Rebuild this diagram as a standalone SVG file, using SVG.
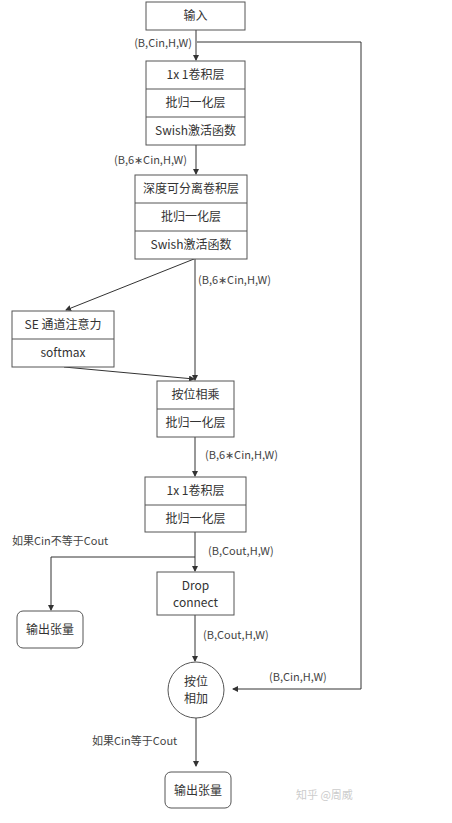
<svg xmlns="http://www.w3.org/2000/svg" width="452" height="823" viewBox="0 0 452 823">
<defs>
<marker id="ah" markerWidth="6" markerHeight="6" refX="5" refY="3" orient="auto" markerUnits="userSpaceOnUse">
<path d="M0,0 L6,3 L0,6 Z" fill="#333"/>
</marker>
<style>
.bx{fill:#fff;stroke:#555;stroke-width:1}
.t{font-family:"Noto Sans CJK SC","Noto Sans",sans-serif;font-size:12px;fill:#333;text-anchor:middle}
.l{font-family:"Noto Sans CJK SC","Noto Sans",sans-serif;font-size:11px;fill:#444}
.c{fill:none;stroke:#333;stroke-width:1}
</style>
</defs>
<rect width="452" height="823" fill="#fff"/>
<g id="connectors">
<path class="c" d="M196,30 V60" marker-end="url(#ah)"/>
<path class="c" d="M197,42 H361 V689 H233" marker-end="url(#ah)"/>
<path class="c" d="M196,145 V174" marker-end="url(#ah)"/>
<path class="c" d="M194,259 L66,310" marker-end="url(#ah)"/>
<path class="c" d="M195,259 V380" marker-end="url(#ah)"/>
<path class="c" d="M64,367 L194,379" marker-end="url(#ah)"/>
<path class="c" d="M195,437 V476" marker-end="url(#ah)"/>
<path class="c" d="M195,532 V571" marker-end="url(#ah)"/>
<path class="c" d="M195,557 H51 V610" marker-end="url(#ah)"/>
<path class="c" d="M195,615 V661" marker-end="url(#ah)"/>
<path class="c" d="M196,718 V766" marker-end="url(#ah)"/>
<text class="l" x="192" y="47" text-anchor="end">(B,Cin,H,W)</text>
<text class="l" x="114" y="164">(B,6∗Cin,H,W)</text>
<text class="l" x="198" y="284">(B,6∗Cin,H,W)</text>
<text class="l" x="205" y="459">(B,6∗Cin,H,W)</text>
<text class="l" x="208" y="555">(B,Cout,H,W)</text>
<text class="l" x="12" y="545">如果Cin不等于Cout</text>
<text class="l" x="203" y="639">(B,Cout,H,W)</text>
<text class="l" x="269" y="681">(B,Cin,H,W)</text>
<text class="l" x="92" y="745">如果Cin等于Cout</text>
</g>
<g id="input">
<rect class="bx" x="146" y="2" width="99" height="28"/>
<text class="t" x="195.5" y="20">输入</text>
</g>
<g id="conv1">
<rect class="bx" x="146" y="61" width="99" height="84"/>
<line class="bx" x1="146" y1="89" x2="245" y2="89"/>
<line class="bx" x1="146" y1="117" x2="245" y2="117"/>
<text class="t" x="195.5" y="79">1x 1卷积层</text>
<text class="t" x="195.5" y="107">批归一化层</text>
<text class="t" x="195.5" y="135">Swish激活函数</text>
</g>
<g id="dwconv">
<rect class="bx" x="135" y="175" width="112" height="84"/>
<line class="bx" x1="135" y1="203" x2="247" y2="203"/>
<line class="bx" x1="135" y1="231" x2="247" y2="231"/>
<text class="t" x="191" y="193">深度可分离卷积层</text>
<text class="t" x="191" y="221">批归一化层</text>
<text class="t" x="191" y="249">Swish激活函数</text>
</g>
<g id="se">
<rect class="bx" x="12" y="311" width="102" height="56"/>
<line class="bx" x1="12" y1="339" x2="114" y2="339"/>
<text class="t" x="63" y="329">SE 通道注意力</text>
<text class="t" x="63" y="357">softmax</text>
</g>
<g id="mul">
<rect class="bx" x="157" y="381" width="77" height="56"/>
<line class="bx" x1="157" y1="409" x2="234" y2="409"/>
<text class="t" x="195.5" y="399">按位相乘</text>
<text class="t" x="195.5" y="427">批归一化层</text>
</g>
<g id="conv2">
<rect class="bx" x="145" y="477" width="101" height="55"/>
<line class="bx" x1="145" y1="505" x2="246" y2="505"/>
<text class="t" x="195.5" y="495">1x 1卷积层</text>
<text class="t" x="195.5" y="523">批归一化层</text>
</g>
<g id="out1">
<rect class="bx" x="17" y="611" width="66" height="37" rx="6"/>
<text class="t" x="50" y="634">输出张量</text>
</g>
<g id="drop">
<rect class="bx" x="157" y="572" width="77" height="43"/>
<text class="t" x="195.5" y="590">Drop</text>
<text class="t" x="195.5" y="607">connect</text>
</g>
<g id="add">
<circle class="bx" cx="196" cy="690" r="28"/>
<text class="t" x="196" y="686">按位</text>
<text class="t" x="196" y="703">相加</text>
</g>
<g id="out2">
<rect class="bx" x="165" y="772" width="66" height="36" rx="6"/>
<text class="t" x="198" y="795">输出张量</text>
</g>
<text x="296" y="799" style="font-family:'Noto Sans CJK SC',sans-serif;font-size:11px;fill:#ccc">知乎 @周威</text>
</svg>
